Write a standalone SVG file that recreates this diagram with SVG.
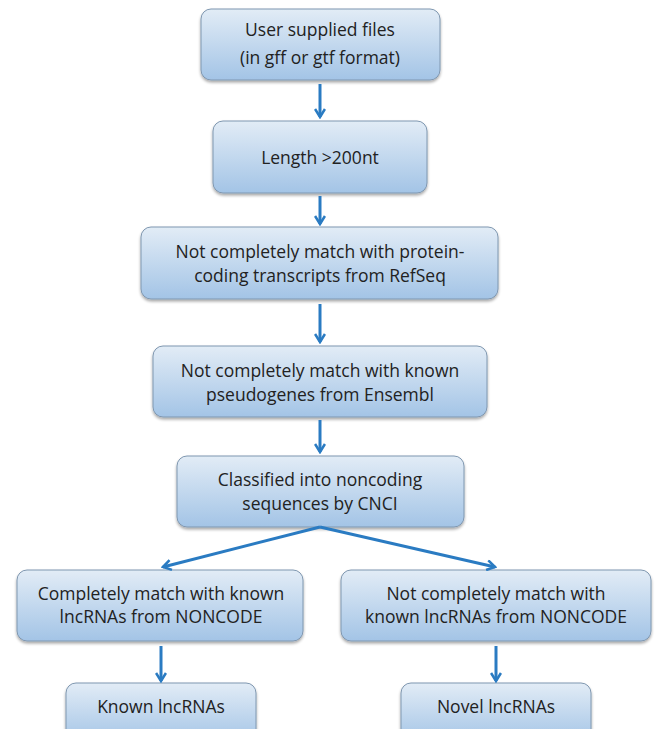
<svg xmlns="http://www.w3.org/2000/svg" width="658" height="729" viewBox="0 0 658 729">
<defs>
<linearGradient id="g" x1="0" y1="0" x2="0" y2="1">
<stop offset="0" stop-color="#e2ecf6"/>
<stop offset="1" stop-color="#a3c4e6"/>
</linearGradient>
<filter id="sh" x="-10%" y="-10%" width="120%" height="130%">
<feGaussianBlur in="SourceAlpha" stdDeviation="1.5"/>
<feOffset dx="0" dy="2" result="b"/>
<feComponentTransfer><feFuncA type="linear" slope="0.35"/></feComponentTransfer>
<feMerge><feMergeNode/><feMergeNode in="SourceGraphic"/></feMerge>
</filter>
<marker id="ah" viewBox="0 0 12 12" refX="10" refY="6" markerWidth="12" markerHeight="12" markerUnits="userSpaceOnUse" orient="auto">
<path d="M2,1 L10,6 L2,11" fill="none" stroke="#2a7bc2" stroke-width="2.6"/>
</marker>
</defs>
<style>
.box{fill:url(#g);stroke:#7f97b0;stroke-width:1;filter:url(#sh)}
text{font-family:"Open Sans","Liberation Sans",sans-serif;font-size:17.5px;fill:#222;text-anchor:middle}
.c{stroke:#2a7bc2;stroke-width:3;fill:none;marker-end:url(#ah)}
</style>
<rect width="658" height="729" fill="#fff"/>
<g id="n1"><rect class="box" x="201" y="9" width="239" height="71" rx="10"/><text x="320" y="36">User supplied files</text><text x="320" y="64">(in gff or gtf format)</text></g>
<g id="n2"><rect class="box" x="213" y="121" width="214" height="72" rx="10"/><text x="320" y="164">Length &gt;200nt</text></g>
<g id="n3"><rect class="box" x="141" y="227" width="357" height="72" rx="10"/><text x="320" y="258">Not completely match with protein-</text><text x="320" y="282">coding transcripts from RefSeq</text></g>
<g id="n4"><rect class="box" x="153" y="346" width="334" height="71" rx="10"/><text x="320" y="377">Not completely match with known</text><text x="320" y="401">pseudogenes from Ensembl</text></g>
<g id="n5"><rect class="box" x="177" y="456" width="287" height="71" rx="10"/><text x="320" y="486">Classified into noncoding</text><text x="320" y="510">sequences by CNCI</text></g>
<g id="n6"><rect class="box" x="17" y="570" width="286" height="71" rx="10"/><text x="161" y="600">Completely match with known</text><text x="161" y="623">lncRNAs from NONCODE</text></g>
<g id="n7"><rect class="box" x="341" y="570" width="310" height="71" rx="10"/><text x="496" y="600">Not completely match with</text><text x="496" y="623">known lncRNAs from NONCODE</text></g>
<g id="n8"><rect class="box" x="66" y="683" width="190" height="60" rx="10"/><text x="161" y="713">Known lncRNAs</text></g>
<g id="n9"><rect class="box" x="401" y="683" width="190" height="60" rx="10"/><text x="496" y="713">Novel lncRNAs</text></g>
<g id="connectors">
<line class="c" x1="320" y1="84" x2="320" y2="117"/>
<line class="c" x1="320" y1="196" x2="320" y2="224"/>
<line class="c" x1="320" y1="304" x2="320" y2="342"/>
<line class="c" x1="320" y1="420" x2="320" y2="452"/>
<line class="c" x1="320" y1="527" x2="163" y2="567"/>
<line class="c" x1="320" y1="527" x2="495" y2="567"/>
<line class="c" x1="161" y1="646" x2="161" y2="681"/>
<line class="c" x1="496" y1="646" x2="496" y2="681"/>
</g>
</svg>
